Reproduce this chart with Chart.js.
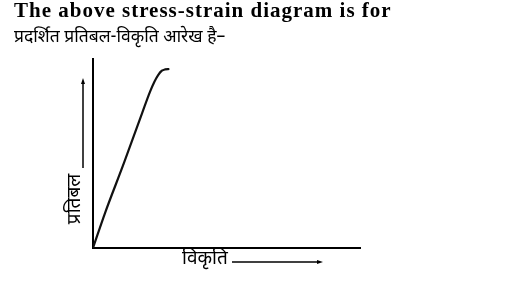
<!DOCTYPE html>
<html>
<head>
<meta charset="utf-8">
<script src="https://cdn.jsdelivr.net/npm/chart.js@4.4.1/dist/chart.umd.min.js"></script>
<style>
    html, body { margin: 0; padding: 0; background: #fff; }
    #wrap { position: relative; width: 522px; height: 284px; overflow: hidden; }
    #chart { position: absolute; left: 0; top: 0; }
    .head { position: absolute; left: 14px; white-space: nowrap; color: #000; }
    #h1 { top: -2px; font: bold 21px "Liberation Serif", "Times New Roman", serif; letter-spacing: 1px; }
    #h2 { top: 26px; font: 17.5px "Noto Sans Devanagari", "Lohit Devanagari", "Mangal", sans-serif; }
</style>
</head>
<body>
<div id="wrap">
    <canvas id="chart" width="522" height="284"></canvas>
    <div class="head" id="h1">The above stress-strain diagram is for</div>
    <div class="head" id="h2">प्रदर्शित प्रतिबल-विकृति आरेख है–</div>
</div>
<script>
    // Curve (strain, stress in % of axis length)
    var strain = [0, 4.5, 11.6, 18.4, 21.3, 23.0, 24.4, 25.8, 27.0, 28.6];
    var stress = [0, 18.5, 45.0, 71.4, 82.5, 88.0, 91.5, 93.8, 94.5, 94.7];

    var xLabel = "विकृति";
    var yLabel = "प्रतिबल";

    var points = strain.map(function (x, i) {
        return {x: x, y: stress[i]};
    });

    // Axis labels with arrows
    var axisArrows = {
        id: 'axisArrows',
        afterDraw: function (chart) {
            var ctx = chart.ctx;
            var area = chart.chartArea;
            ctx.save();
            ctx.fillStyle = '#000';
            ctx.strokeStyle = '#000';
            ctx.lineWidth = 1.5;
            ctx.font = '19px "Noto Sans Devanagari", "Lohit Devanagari", sans-serif';
            ctx.textBaseline = 'middle';

            // x label
            ctx.textAlign = 'left';
            ctx.fillText(xLabel, area.left + 89, area.bottom + 12);
            ctx.beginPath();
            ctx.moveTo(area.left + 139, area.bottom + 14);
            ctx.lineTo(area.left + 226, area.bottom + 14);
            ctx.stroke();
            ctx.beginPath();
            ctx.moveTo(area.left + 230, area.bottom + 14);
            ctx.lineTo(area.left + 224, area.bottom + 12);
            ctx.lineTo(area.left + 224, area.bottom + 16);
            ctx.closePath();
            ctx.fill();

            // y label
            ctx.save();
            ctx.translate(area.left - 17, area.bottom - 49);
            ctx.rotate(-Math.PI / 2);
            ctx.textAlign = 'center';
            ctx.fillText(yLabel, 0, 0);
            ctx.restore();
            ctx.beginPath();
            ctx.moveTo(area.left - 10, area.bottom - 80);
            ctx.lineTo(area.left - 10, area.bottom - 166);
            ctx.stroke();
            ctx.beginPath();
            ctx.moveTo(area.left - 10, area.bottom - 170);
            ctx.lineTo(area.left - 12, area.bottom - 164);
            ctx.lineTo(area.left - 8, area.bottom - 164);
            ctx.closePath();
            ctx.fill();
            ctx.restore();
        }
    };

    var ctx = document.getElementById('chart').getContext('2d');
    var myChart = new Chart(ctx, {
        type: 'line',
        data: {
            datasets: [{
                data: points,
                borderColor: '#111',
                borderWidth: 2.2,
                pointRadius: 0,
                fill: false,
                cubicInterpolationMode: 'monotone'
            }]
        },
        options: {
            responsive: false,
            animation: false,
            layout: {
                padding: {left: 93, top: 59, right: 162, bottom: 36}
            },
            plugins: {
                legend: {display: false},
                tooltip: {enabled: false}
            },
            scales: {
                x: {
                    type: 'linear',
                    min: 0,
                    max: 100,
                    grid: {display: false, drawTicks: false},
                    ticks: {display: false},
                    border: {display: true, color: '#000', width: 2}
                },
                y: {
                    type: 'linear',
                    min: 0,
                    max: 100,
                    grid: {display: false, drawTicks: false},
                    ticks: {display: false},
                    border: {display: true, color: '#000', width: 2}
                }
            }
        },
        plugins: [axisArrows]
    });
</script>
</body>
</html>
